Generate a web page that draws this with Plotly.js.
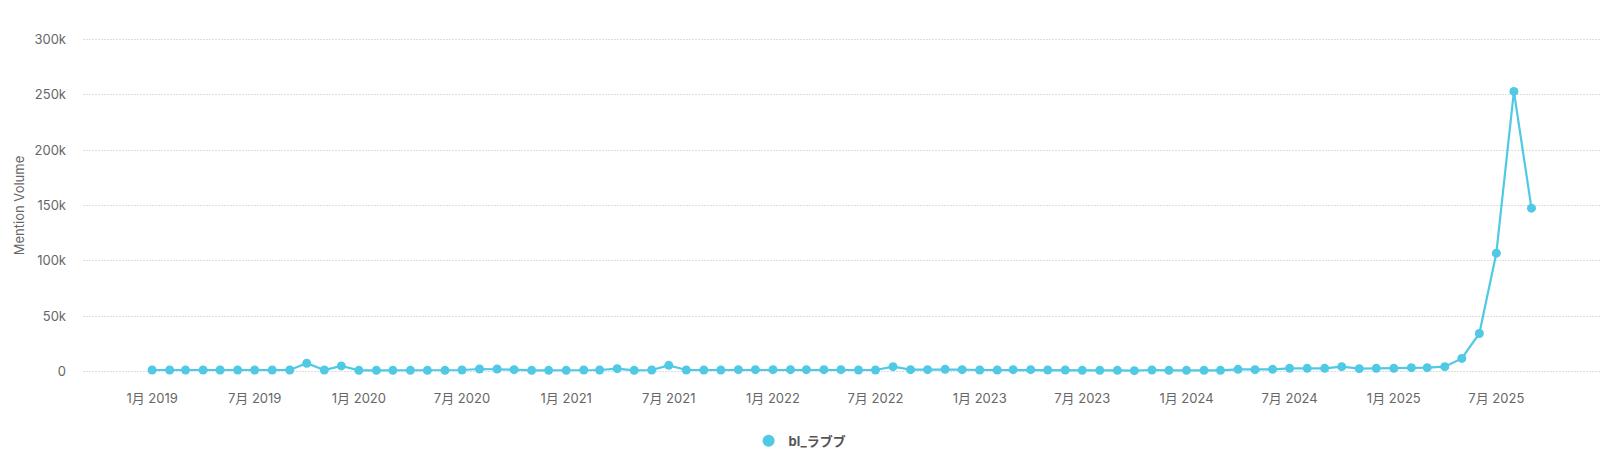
<!DOCTYPE html>
<html>
<head>
<meta charset="utf-8">
<script src="https://cdn.plot.ly/plotly-3.0.1.min.js"></script>
<style>
html,body{margin:0;padding:0;background:#fff;}
#chart{width:1600px;height:466px;}
</style>
</head>
<body>
<div id="chart"></div>
<script>
const months = [
 '2019-01-01','2019-02-01','2019-03-01','2019-04-01','2019-05-01','2019-06-01','2019-07-01','2019-08-01','2019-09-01','2019-10-01','2019-11-01','2019-12-01',
 '2020-01-01','2020-02-01','2020-03-01','2020-04-01','2020-05-01','2020-06-01','2020-07-01','2020-08-01','2020-09-01','2020-10-01','2020-11-01','2020-12-01',
 '2021-01-01','2021-02-01','2021-03-01','2021-04-01','2021-05-01','2021-06-01','2021-07-01','2021-08-01','2021-09-01','2021-10-01','2021-11-01','2021-12-01',
 '2022-01-01','2022-02-01','2022-03-01','2022-04-01','2022-05-01','2022-06-01','2022-07-01','2022-08-01','2022-09-01','2022-10-01','2022-11-01','2022-12-01',
 '2023-01-01','2023-02-01','2023-03-01','2023-04-01','2023-05-01','2023-06-01','2023-07-01','2023-08-01','2023-09-01','2023-10-01','2023-11-01','2023-12-01',
 '2024-01-01','2024-02-01','2024-03-01','2024-04-01','2024-05-01','2024-06-01','2024-07-01','2024-08-01','2024-09-01','2024-10-01','2024-11-01','2024-12-01',
 '2025-01-01','2025-02-01','2025-03-01','2025-04-01','2025-05-01','2025-06-01','2025-07-01','2025-08-01','2025-09-01'
];
const mentions = [
 1500,1500,1500,1500,1500,1500,1500,1500,1500,7600,1500,5200,
 1200,1200,1200,1200,1200,1200,1500,2400,2400,1800,1200,1200,
 1200,1500,1500,2700,1200,1500,5700,1500,1500,1500,1800,1800,
 1800,1800,1800,1800,1800,1500,1500,4500,1800,1800,2100,1800,
 1500,1500,1800,1800,1500,1500,1200,1200,1200,900,1500,1200,
 1200,1200,1200,2100,1800,2100,3000,3000,3000,4500,2700,3000,
 3000,3600,3600,4500,12000,34500,107000,253000,147600
];
const seriesName = 'bl_ラブブ';
const yTickVals = [0,50000,100000,150000,200000,250000,300000];
const yTickText = ['0','50k','100k','150k','200k','250k','300k'];

const FONT = 'Inter, "Noto Sans CJK JP", sans-serif';
const COLOR = '#4fc9e4';

Plotly.newPlot('chart', [{
  x: months,
  y: mentions,
  name: seriesName,
  type: 'scatter',
  mode: 'lines+markers',
  line: {color: COLOR, width: 2.2},
  marker: {color: COLOR, size: 9},
  cliponaxis: false,
  showlegend: false
}, {
  x: [null],
  y: [null],
  name: seriesName,
  type: 'scatter',
  mode: 'markers',
  marker: {color: COLOR, size: 12},
  showlegend: true
}], {
  width: 1600,
  height: 466,
  margin: {l: 83, r: 0, t: 36, b: 91},
  paper_bgcolor: '#fff',
  plot_bgcolor: '#fff',
  font: {family: FONT, color: '#666', size: 13},
  showlegend: true,
  legend: {
    orientation: 'h', x: 0.4727, xanchor: 'center', y: -0.15, yanchor: 'top',
    font: {family: FONT, size: 13, color: '#555', weight: 'bold'}
  },
  xaxis: {
    type: 'date',
    range: ['2018-09-01', '2025-12-31'],
    tick0: '2019-01-01',
    dtick: 'M6',
    tickformat: '%-m月 %Y',
    showgrid: false,
    zeroline: false,
    showline: false,
    ticks: '',
    tickfont: {size: 13, color: '#666'},
    ticklabelstandoff: 14
  },
  yaxis: {
    range: [-3000, 303000],
    tickvals: yTickVals,
    ticktext: yTickText,
    showgrid: true,
    gridcolor: '#dedede',
    griddash: '2px,1px',
    gridwidth: 1,
    zeroline: false,
    showline: false,
    ticks: '',
    tickfont: {size: 13, color: '#666'},
    ticklabelstandoff: 16,
    title: {text: 'Mention Volume', font: {size: 13, color: '#666'}, standoff: 6}
  }
}, {displayModeBar: false, staticPlot: true});
</script>
</body>
</html>
